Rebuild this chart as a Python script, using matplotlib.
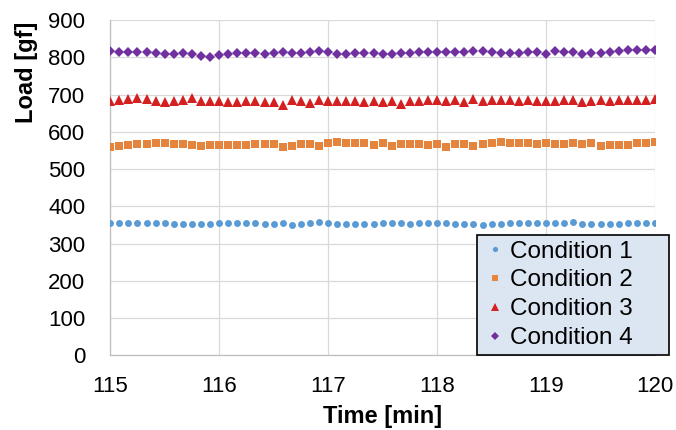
import numpy as np
import matplotlib
matplotlib.use('Agg')
import matplotlib.pyplot as plt

plt.rcParams['font.family'] = ['Liberation Sans', 'DejaVu Sans']

# -------------------------------------------------------------------------
# data (one sample every 5 s from 115 to 120 min)
# -------------------------------------------------------------------------
time_min = 115 + np.arange(61) * 5 / 60

cond1 = [355, 355, 355, 355, 355, 355, 355, 353, 353, 353, 353, 353, 355, 355,
         355, 355, 355, 353, 353, 355, 350, 353, 355, 357, 355, 353, 353, 353,
         353, 353, 355, 355, 355, 353, 355, 355, 355, 355, 353, 353, 353, 350,
         353, 353, 355, 355, 355, 355, 355, 355, 355, 357, 353, 353, 353, 353,
         353, 355, 355, 355, 355]
cond2 = [558, 562, 566, 567, 567, 569, 570, 567, 567, 565, 562, 565, 565, 565,
         565, 565, 567, 567, 567, 560, 563, 567, 568, 563, 569, 573, 570, 569,
         569, 566, 571, 562, 568, 568, 568, 566, 568, 559, 567, 567, 562, 568,
         571, 573, 570, 570, 570, 568, 570, 567, 567, 570, 567, 570, 563, 566,
         566, 566, 569, 569, 573]
cond3 = [683, 685, 687, 690, 687, 683, 680, 683, 685, 690, 683, 683, 683, 680,
         680, 683, 683, 680, 680, 672, 686, 683, 678, 686, 683, 683, 682, 684,
         680, 683, 680, 682, 676, 683, 683, 685, 685, 682, 686, 679, 688, 683,
         685, 685, 686, 684, 686, 683, 683, 683, 685, 686, 680, 683, 686, 683,
         686, 686, 686, 686, 688]
cond4 = [816, 814, 814, 814, 814, 811, 809, 809, 811, 809, 804, 802, 806, 809,
         811, 811, 811, 809, 811, 814, 811, 811, 814, 816, 814, 809, 809, 811,
         811, 812, 810, 809, 811, 812, 814, 814, 815, 815, 815, 815, 817, 817,
         815, 813, 813, 813, 815, 815, 810, 817, 815, 815, 809, 812, 812, 814,
         816, 819, 821, 819, 819]

SERIES = [
    ('Condition 1', cond1, 'o', '#5B9BD5', 5),
    ('Condition 2', cond2, 's', '#E5853D', 5.5),
    ('Condition 3', cond3, '^', '#D42020', 7),
    ('Condition 4', cond4, 'D', '#7030A0', 5.5),
]

# -------------------------------------------------------------------------
# figure
# -------------------------------------------------------------------------
fig = plt.figure(figsize=(6.76, 4.30), dpi=100)
ax = fig.add_axes([0.163, 0.174, 0.806, 0.779])

for label, vals, marker, color, ms in SERIES:
    ax.plot(time_min, vals, linestyle='none', marker=marker, color=color,
            markersize=ms, markeredgewidth=0, label=label, zorder=3)

ax.set_xlim(115, 120)
ax.set_ylim(0, 900)
ax.set_xticks(np.arange(115, 121, 1))
ax.set_yticks(np.arange(0, 901, 100))
ax.grid(True, color='#D9D9D9', linewidth=0.9, zorder=0)
ax.set_axisbelow(True)
ax.tick_params(axis='both', length=0, labelsize=16)
ax.tick_params(axis='y', pad=18)
ax.tick_params(axis='x', pad=15)

for side in ['top', 'right']:
    ax.spines[side].set_visible(False)
for side in ['left', 'bottom']:
    ax.spines[side].set_color('#BFBFBF')
    ax.spines[side].set_linewidth(0.9)

ax.set_xlabel('Time [min]', fontsize=17, fontweight='bold')
ax.set_ylabel('Load [gf]', fontsize=17, fontweight='bold')
ax.xaxis.set_label_coords(0.5, -0.148)
ax.yaxis.set_label_coords(-0.132, 0.845)

# legend box sits on the bottom axis and sticks out past the right edge
leg = ax.legend(loc='lower left', mode='expand', fontsize=17.5, frameon=True,
                fancybox=False, handletextpad=0.1, handlelength=1.0,
                borderpad=0.25, labelspacing=0.28, borderaxespad=0.0,
                markerscale=0.75, bbox_to_anchor=(0.673, 0.0, 0.352, 0.367))
leg.get_frame().set_facecolor('#DCE6F2')
leg.get_frame().set_edgecolor('black')
leg.get_frame().set_linewidth(1.2)
leg.get_frame().set_alpha(1)

plt.savefig('out.png', dpi=100)
plt.close()
